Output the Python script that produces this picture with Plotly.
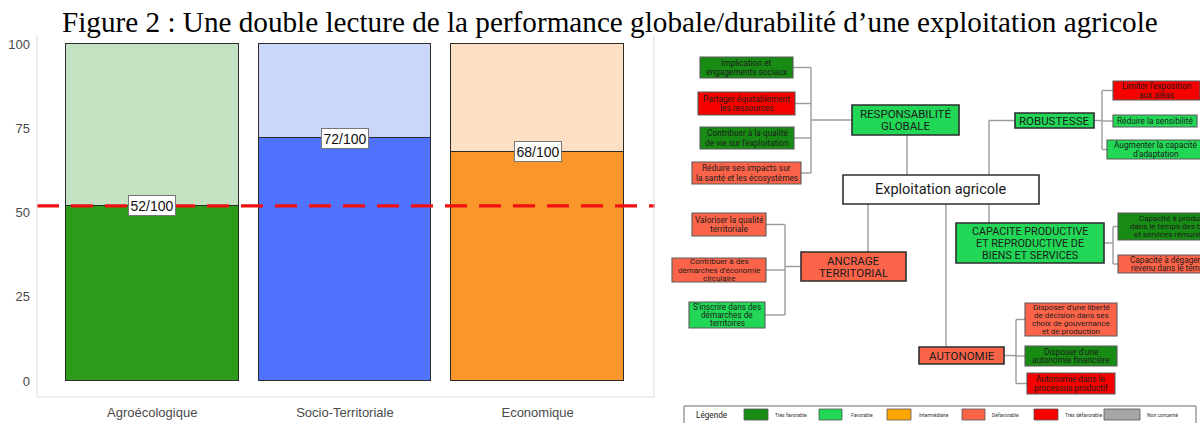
import plotly.graph_objects as go

# ---------------- data: bar chart ----------------
categories = ["Agroécologique", "Socio-Territoriale", "Economique"]
scores = [52, 72, 68]
max_score = [100, 100, 100]
threshold = 52
y_ticks = [0, 25, 50, 75, 100]
score_labels = [f"{s}/100" for s in scores]

# ---------------- data: diagram ----------------
status_names = ["tres_fav", "fav", "inter", "defav", "tres_defav", "nc"]
legend_labels = ["Très favorable", "Favorable", "Intermédiaire", "Défavorable",
                 "Très défavorable", "Non concerné"]

node_ids = ["root", "resp", "robu", "ancr", "capa", "auto",
            "r1", "r2", "r3", "r4",
            "b1", "b2", "b3",
            "a1", "a2", "a3",
            "c1", "c2",
            "u1", "u2", "u3"]
node_labels = [
    "Exploitation agricole",
    "RESPONSABILITÉ\nGLOBALE",
    "ROBUSTESSE",
    "ANCRAGE\nTERRITORIAL",
    "CAPACITE PRODUCTIVE\nET REPRODUCTIVE DE\nBIENS ET SERVICES",
    "AUTONOMIE",
    "Implication et\nengagements sociaux",
    "Partager équitablement\nles ressources",
    "Contribuer à la qualité\nde vie sur l'exploitation",
    "Réduire ses impacts sur\nla santé et les écosystèmes",
    "Limiter l'exposition\naux aléas",
    "Réduire la sensibilité",
    "Augmenter la capacité\nd'adaptation",
    "Valoriser la qualité\nterritoriale",
    "Contribuer à des\ndémarches d'économie\ncirculaire",
    "S'inscrire dans des\ndémarches de\nterritoires",
    "Capacité à produire\ndans le temps des biens\net services rémunérés",
    "Capacité à dégager un\nrevenu dans le temps",
    "Disposer d'une liberté\nde décision dans ses\nchoix de gouvernance\net de production",
    "Disposer d'une\nautonomie financière",
    "Autonomie dans le\nprocessus productif",
]
node_status = ["none", "fav", "fav", "defav", "fav", "defav",
               "tres_fav", "tres_defav", "tres_fav", "defav",
               "tres_defav", "fav", "fav",
               "defav", "defav", "fav",
               "tres_fav", "defav",
               "defav", "tres_fav", "tres_defav"]

# ---------------- styles / layout geometry ----------------
W, H = 1200, 423
dark_colors = ["#2e9a1a", "#5073fe", "#fb962b"]
light_colors = ["#c4e1c1", "#cbd6fb", "#fde0c4"]
status_colors = {"tres_fav": "#178b14", "fav": "#22d756", "inter": "#ffa500",
                 "defav": "#fc644a", "tres_defav": "#f60000", "nc": "#a6a6a6",
                 "none": "#ffffff"}

# box geometry in pixels: x0, y0, x1, y1, font size, line height
geom = {
    "root": (843, 175, 1039, 204, 14.5, 16),
    "resp": (852, 105, 959, 135, 11.5, 12),
    "robu": (1015, 113, 1094, 128, 11.5, 12),
    "ancr": (801, 252, 906, 281, 11.5, 12),
    "capa": (956, 223, 1104, 263, 10.8, 12),
    "auto": (919, 347, 1004, 364, 11.5, 12),
    "r1": (700, 57, 793, 78, 8.3, 9),
    "r2": (698, 92, 795, 115, 8.3, 9),
    "r3": (700, 127, 794, 149, 8.3, 9),
    "r4": (692, 162, 801, 184, 8.3, 9),
    "b1": (1113, 81, 1200, 100, 8.3, 9),
    "b2": (1113, 115, 1197, 127, 8.3, 9),
    "b3": (1107, 140, 1205, 159, 8.3, 9),
    "a1": (692, 213, 766, 236, 8.3, 9),
    "a2": (672, 258, 766, 282, 8.0, 8.2),
    "a3": (689, 302, 765, 328, 8.2, 8.3),
    "c1": (1118, 213, 1228, 240, 8.0, 8.3),
    "c2": (1118, 255, 1222, 273, 8.2, 8.3),
    "u1": (1025, 303, 1117, 336, 8.0, 8.2),
    "u2": (1025, 346, 1117, 366, 8.3, 8.6),
    "u3": (1027, 373, 1115, 394, 8.3, 8.6),
}
big_nodes = {"root", "resp", "robu", "ancr", "capa", "auto"}


def px(x):
    return x / W


def py(y):
    return 1 - y / H


shapes = []
annotations = []
LINE = dict(color="#9b9b9b", width=1.4)


def seg(x0, y0, x1, y1):
    shapes.append(dict(type="line", xref="paper", yref="paper",
                       x0=px(x0), y0=py(y0), x1=px(x1), y1=py(y1), line=LINE))


def cy(n):
    g = geom[n]
    return (g[1] + g[3]) / 2


def left_bracket(parent, children, bx):
    ys = [cy(c) for c in children]
    seg(bx, min(ys), bx, max(ys))
    for c in children:
        seg(geom[c][2], cy(c), bx, cy(c))
    seg(bx, cy(parent), geom[parent][0], cy(parent))


def right_bracket(parent, children, bx):
    ys = [cy(c) for c in children]
    seg(bx, min(ys), bx, max(ys))
    for c in children:
        seg(bx, cy(c), geom[c][0], cy(c))
    seg(geom[parent][2], cy(parent), bx, cy(parent))


left_bracket("resp", ["r1", "r2", "r3", "r4"], 811)
right_bracket("robu", ["b1", "b2", "b3"], 1102)
left_bracket("ancr", ["a1", "a2", "a3"], 785)
right_bracket("capa", ["c1", "c2"], 1113)
right_bracket("auto", ["u1", "u2", "u3"], 1016)

# root links
seg(907, geom["resp"][3], 907, geom["root"][1])
seg(989, geom["root"][1], 989, cy("robu"))
seg(989, cy("robu"), geom["robu"][0], cy("robu"))
seg(868, geom["root"][3], 868, geom["ancr"][1])
seg(989, geom["root"][3], 989, geom["capa"][1])
seg(946, geom["root"][3], 946, geom["auto"][1])

# boxes and text
for nid, lab, st in zip(node_ids, node_labels, node_status):
    x0, y0, x1, y1, fs, lh = geom[nid]
    big = nid in big_nodes
    shapes.append(dict(type="rect", xref="paper", yref="paper",
                       x0=px(x0), y0=py(y0), x1=px(x1), y1=py(y1),
                       fillcolor=status_colors[st],
                       line=dict(color="#2e2e2e" if big else "#5a5a5a",
                                 width=1.6 if big else 1.1)))
    lines = lab.split("\n")
    n = len(lines)
    cx = (x0 + x1) / 2
    cyy = (y0 + y1) / 2
    for i, t in enumerate(lines):
        yy = cyy + (i - (n - 1) / 2) * lh
        annotations.append(dict(xref="paper", yref="paper", x=px(cx), y=py(yy),
                                text=t, showarrow=False, xanchor="center",
                                yanchor="middle",
                                font=dict(family="Roboto", size=fs, color="#1c1c1c")))

# legend
shapes.append(dict(type="rect", xref="paper", yref="paper",
                   x0=px(684), y0=py(406), x1=px(1196), y1=py(432),
                   fillcolor="white", line=dict(color="#6a6a6a", width=1)))
annotations.append(dict(xref="paper", yref="paper", x=px(694), y=py(414.5),
                        text="Légende", showarrow=False, xanchor="left", yanchor="middle",
                        font=dict(family="Roboto", size=8.2, color="#222")))
sw_x = [744, 819, 887, 962, 1034, 1104]
sw_w = [24, 23, 24, 23, 24, 36]
tx_x = [773, 849, 917, 990, 1063, 1145]
for st, lab, sx, sw, tx in zip(status_names, legend_labels, sw_x, sw_w, tx_x):
    shapes.append(dict(type="rect", xref="paper", yref="paper",
                       x0=px(sx), y0=py(409), x1=px(sx + sw), y1=py(420),
                       fillcolor=status_colors[st], line=dict(color="#555", width=0.8)))
    annotations.append(dict(xref="paper", yref="paper", x=px(tx), y=py(414.5),
                            text=lab, showarrow=False, xanchor="left", yanchor="middle",
                            font=dict(family="Roboto", size=5.0, color="#333")))

# ---------------- bar chart ----------------
fig = go.Figure()
fig.add_trace(go.Bar(x=categories, y=scores, marker=dict(color=dark_colors,
                     line=dict(color="#2a2a2a", width=1.2)), width=0.896,
                     showlegend=False, hoverinfo="skip"))
fig.add_trace(go.Bar(x=categories, y=[m - s for m, s in zip(max_score, scores)],
                     marker=dict(color=light_colors, line=dict(color="#2a2a2a", width=1.2)),
                     width=0.896, showlegend=False, hoverinfo="skip"))

for c, s, lab in zip(categories, scores, score_labels):
    annotations.append(dict(x=c, y=s, xref="x", yref="y", text=lab, showarrow=False,
                            bgcolor="white", bordercolor="#777", borderwidth=1,
                            borderpad=1.5,
                            font=dict(family="Liberation Sans", size=14, color="#111")))

# threshold line
shapes.append(dict(type="line", xref="paper", yref="y", x0=px(37), x1=px(655),
                   y0=threshold, y1=threshold,
                   line=dict(color="#f01010", width=3.2, dash="22px,12px")))

# panel frame
FR = dict(color="#dcdcdc", width=1)
shapes.append(dict(type="line", xref="paper", yref="paper", x0=px(37), x1=px(37),
                   y0=py(35), y1=py(397), line=FR))
shapes.append(dict(type="line", xref="paper", yref="paper", x0=px(654), x1=px(654),
                   y0=py(35), y1=py(397), line=FR))
shapes.append(dict(type="line", xref="paper", yref="paper", x0=px(37), x1=px(654),
                   y0=py(397), y1=py(397), line=FR))

# title
annotations.append(dict(xref="paper", yref="paper", x=px(610), y=py(22),
                        text="Figure 2 : Une double lecture de la performance globale/durabilité d’une exploitation agricole",
                        showarrow=False, xanchor="center", yanchor="middle",
                        font=dict(family="Liberation Serif", size=29.2, color="#000")))

fig.update_layout(
    width=W, height=H, barmode="stack",
    margin=dict(l=0, r=0, t=0, b=0),
    paper_bgcolor="white", plot_bgcolor="white",
    bargap=0,
    xaxis=dict(domain=[px(37), px(654)], range=[-0.598, 2.604], showgrid=False,
               zeroline=False, showline=False, ticks="", ticklabelstandoff=6,
               tickfont=dict(family="Liberation Sans", size=13, color="#4a4a4a")),
    yaxis=dict(domain=[py(397), py(35)], range=[-4.75, 102.7], tickvals=y_ticks,
               showgrid=False, zeroline=False, showline=False, ticks="",
               ticklabelstandoff=6,
               tickfont=dict(family="Liberation Sans", size=13, color="#4a4a4a")),
    shapes=shapes, annotations=annotations,
)

fig.write_html("out.html")
